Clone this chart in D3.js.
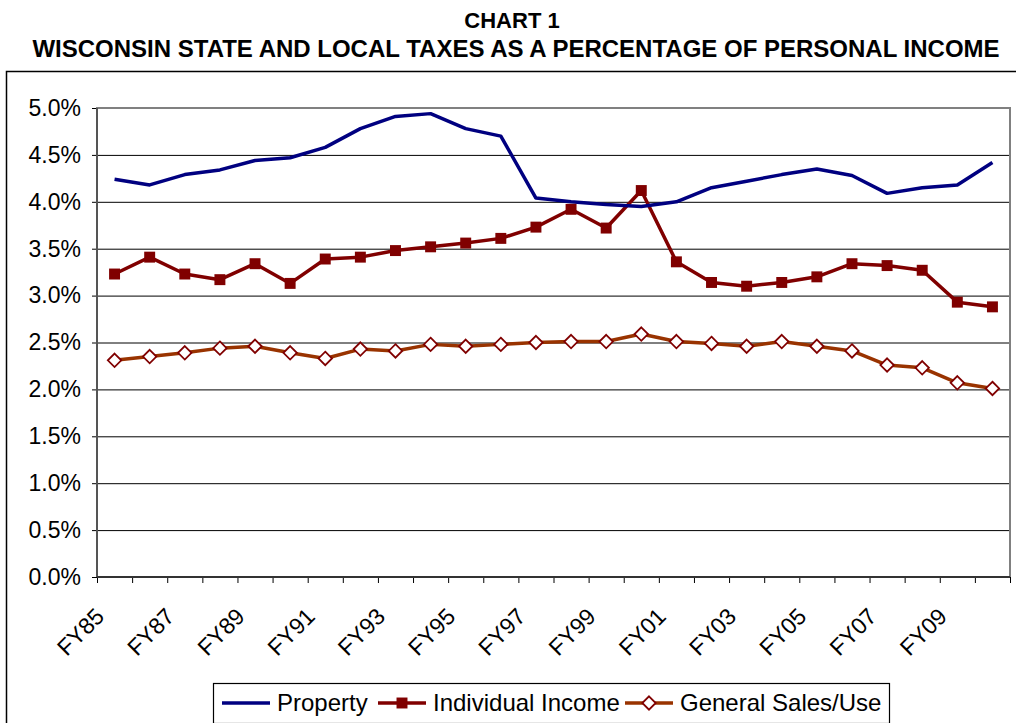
<!DOCTYPE html>
<html>
  <head>
    <script src="https://d3js.org/d3.v7.min.js"></script>
    <style>
      body { margin: 0; background: #fff; }
      svg text { font-family: "Liberation Sans", Arial, sans-serif; fill: #000; }
      .domain { display: none; }
    </style>
  </head>
  <body>
    <svg id="chart" width="1016" height="723"></svg>
  </body>
  <script>
    var years = ["FY85","FY86","FY87","FY88","FY89","FY90","FY91","FY92","FY93","FY94","FY95","FY96","FY97",
                 "FY98","FY99","FY00","FY01","FY02","FY03","FY04","FY05","FY06","FY07","FY08","FY09","FY10"];
    var property = [4.24,4.18,4.29,4.34,4.44,4.47,4.58,4.78,4.91,4.94,4.78,4.70,4.04,
                    4.00,3.97,3.95,4.00,4.15,4.22,4.29,4.35,4.28,4.09,4.15,4.18,4.42];
    var income = [3.23,3.41,3.23,3.17,3.34,3.13,3.39,3.41,3.48,3.52,3.56,3.61,3.73,
                  3.92,3.72,4.12,3.36,3.14,3.10,3.14,3.20,3.34,3.32,3.27,2.93,2.88];
    var sales = [2.31,2.35,2.39,2.44,2.46,2.39,2.33,2.43,2.41,2.48,2.46,2.48,2.50,
                 2.51,2.51,2.59,2.51,2.49,2.46,2.51,2.46,2.41,2.26,2.23,2.07,2.01];
    var yTicks = [0,0.5,1.0,1.5,2.0,2.5,3.0,3.5,4.0,4.5,5.0];
    var seriesNames = ["Property","Individual Income","General Sales/Use"];

    var svg = d3.select("#chart");
    var plotL = 97, plotR = 1010, plotT = 108, plotB = 577;

    var x = d3.scaleBand().domain(years).range([plotL, plotR]).padding(0);
    var xEdge = d3.scaleLinear().domain([0, years.length]).range([plotL, plotR]);
    var y = d3.scaleLinear().domain([0, 5]).range([plotB, plotT]);

    // outer frame
    svg.append("rect")
      .attr("x", 6.5).attr("y", 71.5)
      .attr("width", 1020).attr("height", 700)
      .attr("fill", "none").attr("stroke", "#000").attr("stroke-width", 1.5);

    // titles
    svg.append("text")
      .attr("x", 512).attr("y", 28)
      .attr("text-anchor", "middle")
      .style("font-size", "22px").style("font-weight", "bold")
      .text("CHART 1");
    svg.append("text")
      .attr("x", 516).attr("y", 57)
      .attr("text-anchor", "middle")
      .style("font-size", "24px").style("font-weight", "bold")
      .text("WISCONSIN STATE AND LOCAL TAXES AS A PERCENTAGE OF PERSONAL INCOME");

    // gridlines
    svg.append("g")
      .attr("transform", "translate(" + plotL + ",0)")
      .call(d3.axisLeft(y).tickValues(yTicks.slice(1)).tickSize(-(plotR - plotL)).tickFormat(""))
      .call(function(g) {
        g.selectAll(".tick line").attr("stroke", "#000").attr("stroke-width", 1);
      });

    // plot frame
    svg.append("rect")
      .attr("x", plotL).attr("y", plotT)
      .attr("width", plotR - plotL).attr("height", plotB - plotT)
      .attr("fill", "none").attr("stroke", "#808080").attr("stroke-width", 2);

    // y axis
    var yAxis = svg.append("g")
      .attr("transform", "translate(" + plotL + ",0)")
      .call(d3.axisLeft(y).tickValues(yTicks).tickSize(5).tickPadding(11)
        .tickFormat(function(d) { return d.toFixed(1) + "%"; }));
    yAxis.selectAll(".tick line").attr("stroke", "#000");
    yAxis.selectAll(".tick text").style("font-size", "23px").attr("font-family", null);
    yAxis.append("line")
      .attr("x1", 0).attr("x2", 0).attr("y1", plotT).attr("y2", plotB)
      .attr("stroke", "#555").attr("stroke-width", 2);

    // x axis
    var xAxis = svg.append("g")
      .attr("transform", "translate(0," + plotB + ")")
      .call(d3.axisBottom(xEdge).ticks(years.length).tickSize(6).tickFormat(""));
    xAxis.selectAll(".tick line").attr("stroke", "#000");
    xAxis.append("line")
      .attr("x1", plotL).attr("x2", plotR).attr("y1", 0).attr("y2", 0)
      .attr("stroke", "#333").attr("stroke-width", 2);

    svg.append("g").selectAll("text")
      .data(years.filter(function(d, i) { return i % 2 == 0; }))
      .enter().append("text")
      .attr("text-anchor", "end")
      .attr("transform", function(d) {
        return "translate(" + (x(d) + x.bandwidth() / 2 - 9) + "," + 618 + ") rotate(-45)";
      })
      .style("font-size", "23px")
      .text(function(d) { return d; });

    var cx = function(d, i) { return x(years[i]) + x.bandwidth() / 2; };
    var line = d3.line().x(cx).y(function(d) { return y(d); });

    // series
    svg.append("path").datum(sales)
      .attr("d", line).attr("fill", "none")
      .attr("stroke", "#993300").attr("stroke-width", 3.5).attr("stroke-linejoin", "round");
    svg.append("path").datum(income)
      .attr("d", line).attr("fill", "none")
      .attr("stroke", "#800000").attr("stroke-width", 3.5).attr("stroke-linejoin", "round");
    svg.append("path").datum(property)
      .attr("d", line).attr("fill", "none")
      .attr("stroke", "#000080").attr("stroke-width", 3.5).attr("stroke-linejoin", "round");

    var square = d3.symbol().type(d3.symbolSquare).size(120);
    var diamond = d3.symbol().type(d3.symbolDiamond2).size(115);

    svg.append("g").selectAll("path")
      .data(income).enter().append("path")
      .attr("d", square)
      .attr("transform", function(d, i) { return "translate(" + cx(d, i) + "," + y(d) + ")"; })
      .attr("fill", "#800000");

    svg.append("g").selectAll("path")
      .data(sales).enter().append("path")
      .attr("d", diamond)
      .attr("transform", function(d, i) { return "translate(" + cx(d, i) + "," + y(d) + ")"; })
      .attr("fill", "#fff").attr("stroke", "#800000").attr("stroke-width", 1.8);

    // legend
    var legend = svg.append("g");
    legend.append("rect")
      .attr("x", 213.5).attr("y", 683.5)
      .attr("width", 676).attr("height", 40)
      .attr("fill", "#fff").attr("stroke", "#000").attr("stroke-width", 1.2);

    var legendX = [222, 378, 625];
    var legendColor = ["#000080", "#800000", "#993300"];
    var legendMark = [null, square, diamond];
    seriesNames.forEach(function(name, i) {
      var g = legend.append("g").attr("transform", "translate(" + legendX[i] + ",703)");
      g.append("line").attr("x1", 0).attr("x2", 48).attr("y1", 0).attr("y2", 0)
        .attr("stroke", legendColor[i]).attr("stroke-width", 3.5);
      if (legendMark[i]) {
        g.append("path").attr("d", legendMark[i]).attr("transform", "translate(24,0)")
          .attr("fill", i == 1 ? "#800000" : "#fff")
          .attr("stroke", "#800000").attr("stroke-width", i == 1 ? 0 : 1.8);
      }
      g.append("text").attr("x", 55).attr("y", 8)
        .style("font-size", "24px")
        .text(name);
    });
  </script>
</html>
